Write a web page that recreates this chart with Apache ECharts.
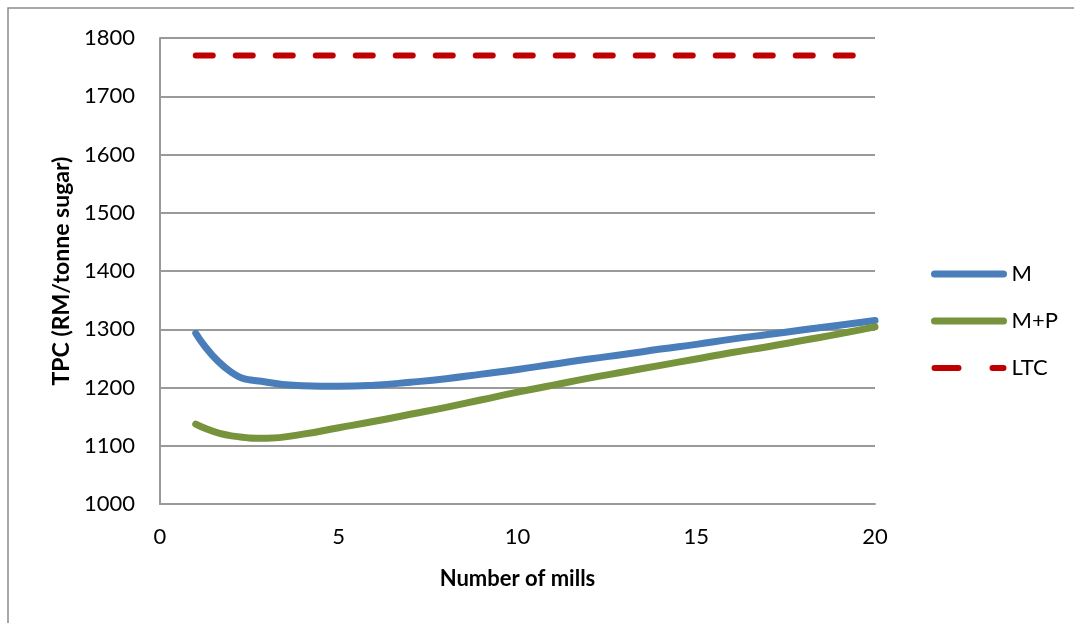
<!DOCTYPE html>
<html>
<head>
<meta charset="utf-8">
<script src="https://cdn.jsdelivr.net/npm/echarts@6/dist/echarts.min.js"></script>
<style>
  html, body { margin: 0; padding: 0; background: #fff; }
  #chart { width: 1074px; height: 623px; }
</style>
</head>
<body>
<div id="chart"></div>
<script>
// Number of mills (x) and total processing cost per tonne of sugar (y)
const mills = [1, 2, 3, 4, 5, 6, 7, 8, 9, 10, 11, 12, 13, 14, 15, 16, 17, 18, 19, 20];
const costM = [1293, 1226, 1209, 1203, 1202, 1204, 1209, 1215, 1223, 1231, 1240, 1249, 1257, 1266, 1274, 1283, 1291, 1299, 1307, 1315];
const costMP = [1137, 1117, 1113, 1120, 1131, 1142, 1154, 1166, 1179, 1192, 1204, 1216, 1227, 1238, 1249, 1260, 1270, 1281, 1292, 1304];
const ltcX = [1, 20];
const ltcValue = 1770;
const seriesNames = ['M', 'M+P', 'LTC'];

const FONT = 'Lato, "Open Sans", sans-serif';
const pair = (xs, ys) => xs.map((x, i) => [x, ys[i]]);

const chart = echarts.init(document.getElementById('chart'));
chart.setOption({
  animation: false,
  backgroundColor: '#fff',
  graphic: [{
    type: 'rect',
    shape: { x: 8, y: 8, width: 1100, height: 700 },
    style: { fill: 'none', stroke: '#8c8c8c', lineWidth: 1.5 },
    silent: true
  }],
  grid: { left: 160, top: 38, right: 199, bottom: 119 },
  xAxis: {
    type: 'value',
    min: 0, max: 20, interval: 5,
    name: 'Number of mills',
    nameLocation: 'middle',
    nameGap: 64,
    nameTextStyle: { fontFamily: FONT, fontSize: 22, fontWeight: 'bold', color: '#000' },
    axisLine: { show: true, lineStyle: { color: '#9a9a9a', width: 2 } },
    axisTick: { show: false },
    axisLabel: { fontFamily: FONT, fontSize: 22, color: '#000', margin: 22 },
    splitLine: { show: false }
  },
  yAxis: {
    type: 'value',
    min: 1000, max: 1800, interval: 100,
    name: 'TPC (RM/tonne sugar)',
    nameLocation: 'middle',
    nameGap: 86,
    nameTextStyle: { fontFamily: FONT, fontSize: 23, fontWeight: 'bold', color: '#000' },
    axisLine: { show: true, lineStyle: { color: '#9a9a9a', width: 2 } },
    axisTick: { show: false },
    axisLabel: { fontFamily: FONT, fontSize: 22, color: '#000', margin: 25, formatter: v => String(v) },
    splitLine: { show: true, lineStyle: { color: '#9a9a9a', width: 2 } }
  },
  legend: {
    orient: 'vertical',
    left: 931,
    top: 263,
    padding: 0,
    itemWidth: 69,
    itemHeight: 14,
    itemGap: 25,
    itemStyle: { opacity: 0 },
    lineStyle: { width: 7, cap: 'round' },
    textStyle: { fontFamily: FONT, fontSize: 22, color: '#000', padding: [0, 0, 0, 3] },
    data: [
      { name: seriesNames[0] },
      { name: seriesNames[1] },
      { name: seriesNames[2], lineStyle: { width: 6, type: [24, 34], cap: 'round' } }
    ]
  },
  series: [
    {
      name: seriesNames[0],
      type: 'line',
      data: pair(mills, costM),
      smooth: 0.5,
      symbol: 'none',
      lineStyle: { color: '#4a7ebb', width: 7, cap: 'round' },
      itemStyle: { color: '#4a7ebb' }
    },
    {
      name: seriesNames[1],
      type: 'line',
      data: pair(mills, costMP),
      smooth: 0.5,
      symbol: 'none',
      lineStyle: { color: '#77933c', width: 7, cap: 'round' },
      itemStyle: { color: '#77933c' }
    },
    {
      name: seriesNames[2],
      type: 'line',
      data: pair(ltcX, [ltcValue, ltcValue]),
      symbol: 'none',
      lineStyle: { color: '#c00000', width: 6, type: [17, 23], cap: 'round' },
      itemStyle: { color: '#c00000' }
    }
  ]
});
</script>
</body>
</html>
